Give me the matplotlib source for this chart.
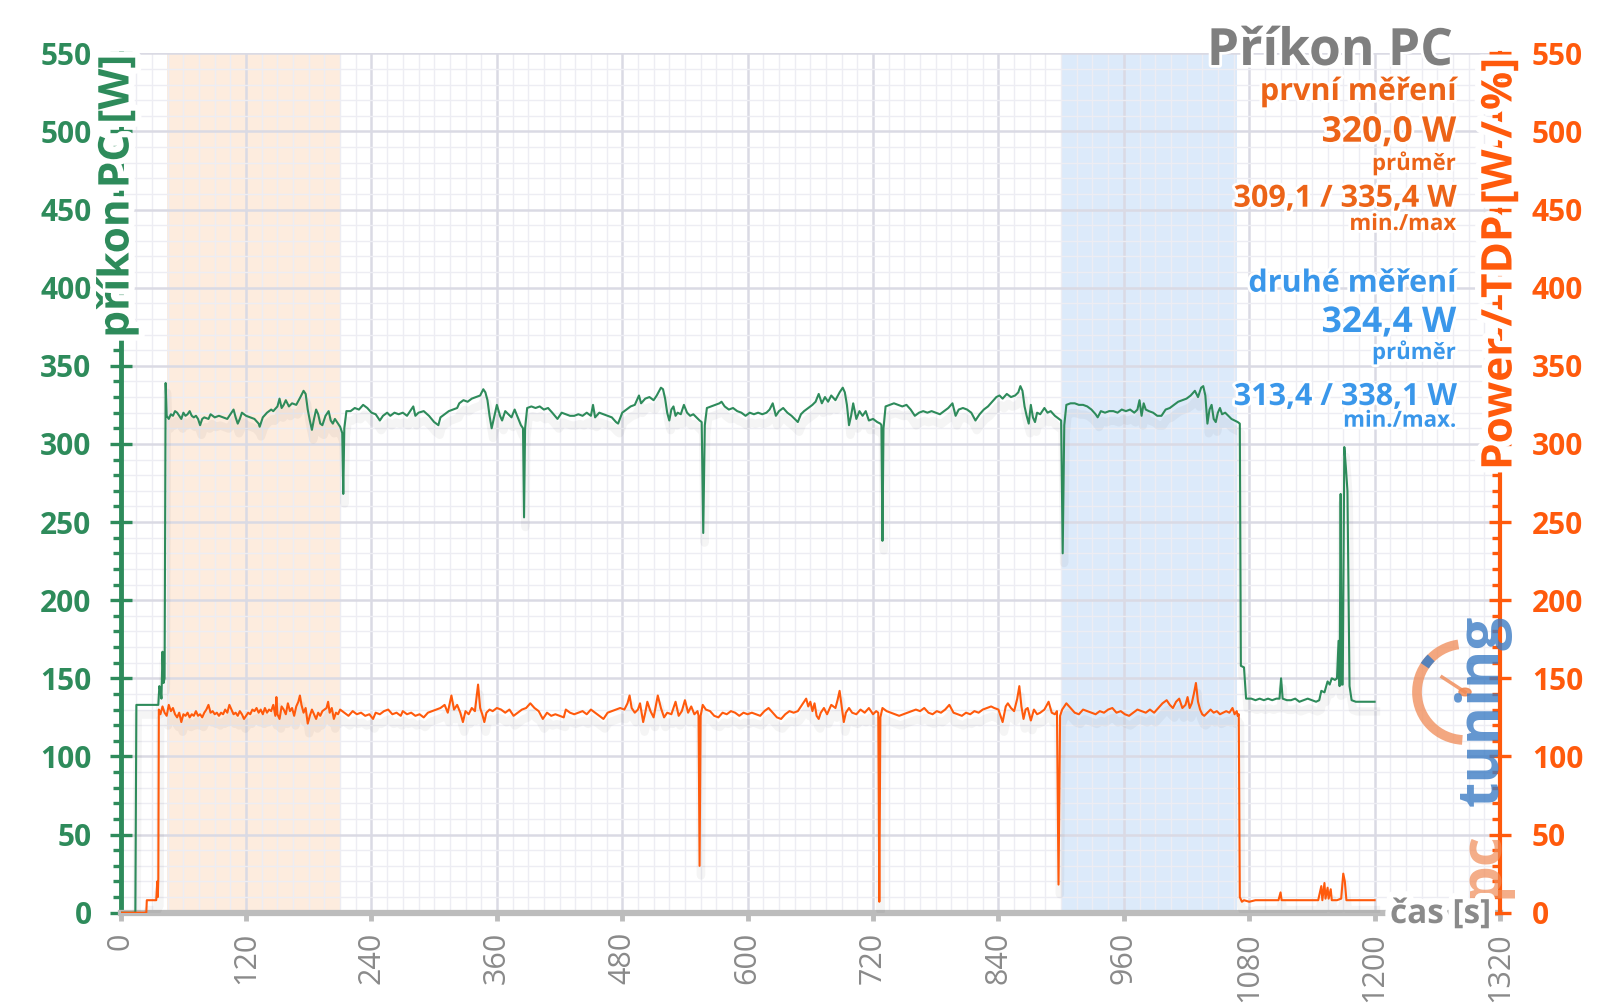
import matplotlib
matplotlib.use('Agg')
import matplotlib.pyplot as plt
import matplotlib.patheffects as pe
from matplotlib.patches import Arc, Circle
from matplotlib.lines import Line2D
from matplotlib.ticker import MultipleLocator

plt.rcParams['font.family'] = ['Open Sans', 'DejaVu Sans']

# ---------------- data ----------------
x_ticks = [0, 120, 240, 360, 480, 600, 720, 840, 960, 1080, 1200, 1320]
y_ticks = [0, 50, 100, 150, 200, 250, 300, 350, 400, 450, 500, 550]

span_first = [44, 210]
span_second = [900, 1068]

green_t = [0, 14, 15, 36, 37, 38.5, 39, 40, 41, 42, 43, 44, 46, 48, 50, 52, 54, 56, 58, 60, 62, 64, 66, 68, 70,
           72, 74, 76, 78, 80, 84, 86, 90, 94, 98, 102, 104, 108, 110, 112, 114, 116, 120, 124, 128, 132, 133,
           136, 140, 144, 146, 150, 152, 154, 156, 158, 161, 164, 168, 172, 175, 177, 179, 181, 183, 185, 187,
           189, 191, 193, 196, 199, 201, 203, 205, 208, 210, 212, 213, 214, 216, 220, 224, 228, 232, 236, 240,
           244, 248, 251, 255, 258, 262, 266, 270, 274, 278, 280, 282, 285, 290, 295, 300, 304, 306, 310, 314,
           318, 322, 324, 328, 332, 336, 340, 344, 347, 349, 351, 353, 355, 358, 360, 363, 365, 368, 371, 374,
           377, 380, 383, 385, 386, 387, 389, 393, 397, 401, 405, 409, 413, 418, 422, 426, 430, 434, 438, 442,
           446, 450, 452, 454, 458, 462, 466, 470, 474, 476, 480, 484, 488, 492, 496, 498, 502, 506, 510, 513,
           517, 519, 521, 523, 525, 527, 529, 531, 533, 536, 539, 542, 545, 548, 551, 554, 556, 557.5, 559, 561,
           565, 569, 573, 575, 578, 582, 586, 590, 594, 598, 602, 606, 610, 614, 618, 621, 624, 627, 630, 634,
           638, 642, 645, 648, 651, 654, 658, 662, 665, 668, 671, 674, 677, 680, 684, 688, 691, 693, 695, 697,
           699, 701, 704, 707, 710, 713, 716, 720, 724, 727, 728, 729, 730, 732, 736, 740, 744, 748, 752, 756,
           760, 764, 768, 772, 776, 780, 784, 788, 792, 796, 799, 802, 806, 810, 814, 818, 822, 826, 830, 834,
           838, 841, 844, 848, 852, 856, 859, 861, 863, 865, 867, 869, 871, 873, 875, 877, 880, 884, 887, 890,
           894, 898, 900, 901.5, 903, 905, 909, 913, 917, 921, 925, 929, 933, 935, 938, 942, 946, 950, 954, 958,
           962, 966, 970, 973, 975, 977, 979, 981, 984, 988, 992, 996, 1000, 1004, 1008, 1012, 1016, 1020, 1024,
           1028, 1031, 1034, 1036, 1038, 1040, 1042, 1044, 1046, 1048, 1050, 1052, 1054, 1057, 1060, 1063, 1066,
           1069, 1071, 1072, 1075, 1077, 1082, 1086, 1090, 1094, 1098, 1102, 1106, 1109, 1110.5, 1112, 1116,
           1120, 1124, 1128, 1132, 1136, 1140, 1144, 1147, 1149, 1152, 1155, 1157, 1159, 1162, 1164, 1165.5,
           1166.5, 1167.5, 1168.5, 1169.5, 1171, 1172.5, 1174, 1176, 1178, 1182, 1188, 1194, 1200]
green_w = [0, 0, 133, 133, 145, 140, 137, 167, 147, 150, 339, 318, 316, 319, 318, 321, 320, 318, 316, 320, 318,
           319, 321, 318, 317, 318, 316, 312, 316, 317, 316, 319, 317, 318, 317, 316, 318, 322, 317, 313, 316,
           320, 318, 317, 316, 313, 311, 317, 320, 322, 321, 324, 329, 323, 325, 328, 324, 326, 325, 330, 334,
           332, 322, 315, 309, 316, 322, 319, 313, 312, 318, 321, 315, 313, 316, 313, 311, 307, 268, 310, 321,
           321, 323, 322, 325, 323, 320, 319, 315, 318, 320, 318, 320, 319, 320, 318, 322, 324, 318, 320, 321,
           318, 314, 312, 317, 319, 321, 322, 323, 326, 328, 327, 329, 330, 331, 335, 333, 328, 318, 310, 319,
           325, 318, 315, 321, 319, 317, 322, 317, 312, 310, 253, 310, 323, 324, 323, 324, 322, 323, 320, 316,
           320, 319, 318, 318, 319, 318, 320, 318, 325, 317, 320, 319, 318, 317, 314, 313, 320, 322, 324, 325,
           331, 326, 329, 330, 328, 331, 336, 335, 329, 320, 315, 322, 324, 318, 320, 319, 325, 320, 318, 319,
           317, 315, 314, 243, 312, 323, 324, 325, 326, 327, 324, 322, 323, 321, 320, 318, 320, 319, 320, 319,
           320, 322, 326, 318, 321, 323, 320, 318, 316, 314, 319, 321, 323, 325, 327, 332, 326, 330, 327, 331,
           328, 333, 336, 333, 325, 312, 318, 326, 316, 321, 318, 321, 315, 316, 314, 313, 312, 238, 310, 324,
           325, 326, 325, 324, 325, 322, 318, 320, 321, 320, 321, 320, 319, 321, 323, 326, 318, 322, 323, 322,
           320, 315, 319, 322, 324, 327, 330, 331, 329, 332, 330, 331, 333, 337, 334, 324, 318, 313, 325, 317,
           314, 320, 319, 323, 320, 321, 318, 316, 315, 230, 312, 325, 326, 326, 325, 325, 324, 322, 319, 317,
           321, 320, 321, 321, 320, 322, 321, 322, 320, 322, 328, 318, 326, 322, 321, 320, 318, 318, 322, 323,
           325, 327, 328, 329, 331, 334, 330, 336, 337, 331, 313, 322, 325, 316, 314, 320, 323, 319, 320, 318,
           316, 315, 314, 313, 158, 157, 137, 137, 136, 137, 136, 137, 136, 137, 137, 150, 137, 136, 136, 137,
           135, 136, 137, 136, 135, 136, 142, 141, 148, 146, 150, 149, 150, 174, 145, 268, 146, 146, 298, 285,
           270, 145, 136, 135, 135, 135, 135]

power_t = [0, 24.5, 25, 34, 35, 35.5, 36, 36.5, 38, 40, 42, 44, 46, 48, 50, 52, 54, 56, 58, 60, 62, 64, 66, 68,
           70, 72, 74, 76, 78, 80, 82, 84, 86, 88, 90, 92, 94, 96, 98, 100, 102, 104, 106, 108, 110, 112, 114,
           116, 118, 120, 122, 124, 126, 128, 130, 132, 134, 136, 138, 140, 142, 144, 146, 148, 149, 150, 152,
           154, 156, 158, 160, 162, 164, 166, 168, 170, 171.5, 173, 175, 177, 179, 181, 183, 185, 187, 189, 191,
           193, 195, 197, 198.5, 200, 202, 204, 206, 208, 210, 214, 218, 222, 226, 230, 234, 238, 241.5, 244,
           248, 252, 256, 260, 264, 268, 270, 274, 278, 282, 286, 290, 294, 298, 302, 306, 310, 313, 316.5, 319,
           322, 325, 327.5, 330, 333, 336, 339, 342, 344, 346, 348, 350, 353, 356, 360, 364, 368, 372, 376, 380,
           384, 388, 392, 396, 400, 404, 408, 412, 416, 420, 424, 426, 430, 434, 438, 442, 446, 450, 454, 458,
           462, 466, 470, 474, 478, 482, 485, 487, 489, 492, 495, 497, 500, 502, 504, 507, 510, 514, 517, 520,
           523, 527, 531, 534, 537, 540, 543, 546, 549, 552, 553, 554, 555, 557, 560, 564, 568, 572, 576, 580,
           584, 588, 592, 596, 600, 604, 608, 612, 616, 620, 624, 628, 632, 636, 640, 644, 648, 652, 656, 658,
           660, 662, 664, 666, 668, 670, 673, 676, 680, 684, 686, 688, 690, 692, 694, 697, 700, 704, 708, 712,
           716, 720, 723, 725, 726, 727, 729, 733, 737, 741, 745, 749, 753, 757, 761, 765, 769, 773, 777, 781,
           785, 789, 793, 797, 801, 805, 809, 813, 817, 821, 825, 829, 833, 836, 840, 844, 847, 849, 852, 855,
           858, 860, 862, 864, 866, 868, 871, 874, 877, 880, 884, 888, 891, 894, 896, 897.5, 899, 901, 905, 909,
           913, 917, 921, 925, 929, 933, 937, 941, 945, 949, 953, 957, 961, 965, 969, 973, 977, 981, 985, 989,
           993, 997, 1001, 1004, 1007, 1010, 1013, 1016, 1019, 1021, 1023, 1025, 1027, 1029, 1031, 1033, 1035,
           1037, 1040, 1043, 1046, 1049, 1052, 1055, 1058, 1061, 1064, 1066, 1068, 1069, 1070, 1071, 1073, 1075,
           1080, 1086, 1092, 1098, 1104, 1108, 1110, 1111, 1120, 1130, 1140, 1146, 1149, 1150, 1152, 1153, 1155,
           1156, 1158, 1159, 1164, 1168, 1170, 1171.5, 1173, 1180, 1190, 1200]
power_w = [0, 0, 8, 8, 20, 10, 22, 130, 127, 132, 128, 126, 133, 129, 131, 127, 125, 128, 122, 127, 126, 128,
           125, 127, 126, 129, 126, 127, 125, 128, 130, 133, 128, 129, 127, 128, 126, 128, 127, 130, 128, 133,
           130, 127, 128, 126, 129, 127, 124, 126, 128, 127, 130, 129, 131, 128, 130, 127, 131, 128, 130, 129,
           133, 126, 138, 127, 124, 132, 130, 127, 134, 129, 131, 126, 132, 135, 139, 133, 128, 131, 121, 126,
           130, 127, 124, 128, 126, 129, 130, 131, 135, 128, 131, 124, 128, 127, 130, 128, 126, 129, 127, 128,
           126, 127, 124, 128, 127, 129, 130, 127, 128, 126, 129, 127, 128, 126, 127, 125, 128, 129, 130, 131,
           133, 128, 139, 130, 133, 128, 122, 129, 127, 131, 129, 146, 131, 127, 122, 128, 130, 129, 131, 130,
           128, 130, 126, 128, 130, 131, 134, 131, 129, 124, 128, 126, 127, 126, 125, 130, 128, 127, 128, 129,
           127, 130, 128, 126, 124, 128, 129, 130, 131, 130, 134, 139, 131, 128, 130, 134, 122, 128, 135, 129,
           125, 139, 131, 125, 128, 127, 135, 126, 129, 136, 128, 132, 127, 129, 126, 30, 126, 133, 130, 129,
           126, 125, 128, 127, 129, 128, 126, 128, 127, 128, 127, 126, 129, 131, 128, 125, 124, 127, 129, 128,
           129, 133, 137, 132, 135, 129, 134, 126, 124, 128, 131, 127, 133, 131, 136, 142, 132, 122, 128, 131,
           128, 127, 130, 128, 131, 127, 129, 128, 7, 125, 131, 129, 128, 127, 126, 127, 128, 129, 130, 129,
           131, 128, 127, 129, 128, 130, 133, 128, 127, 126, 128, 127, 129, 128, 130, 131, 132, 131, 130, 122,
           132, 134, 131, 129, 137, 145, 132, 124, 130, 131, 123, 130, 127, 128, 130, 135, 128, 127, 129, 18,
           126, 130, 134, 131, 128, 127, 130, 129, 128, 127, 129, 128, 130, 131, 128, 129, 127, 126, 128, 130,
           129, 128, 130, 128, 131, 134, 136, 133, 131, 135, 137, 131, 133, 138, 131, 134, 140, 147, 135, 130,
           127, 126, 128, 130, 128, 129, 127, 128, 129, 128, 131, 127, 129, 126, 127, 10, 7, 8, 7, 8, 8, 8, 8,
           8, 13, 8, 8, 8, 8, 8, 17, 8, 19, 9, 16, 9, 15, 8, 8, 9, 25, 20, 8, 8, 8, 8]

title = "Příkon PC"
first_lines = ["první měření", "320,0 W", "průměr", "309,1 / 335,4 W", "min./max"]
second_lines = ["druhé měření", "324,4 W", "průměr", "313,4 / 338,1 W", "min./max."]

# ---------------- styling ----------------
GREEN = '#2e8b5b'
ORANGE = '#ff5a0c'
ORANGE_TXT = '#ec6418'
BLUE = '#3a97ea'
GRAY = '#8a8a8a'
AXGRAY = '#bcbcbc'

W, H = 1600, 1008
fig = plt.figure(figsize=(16, 10.08), dpi=100)
fig.patch.set_facecolor('white')
L, R, T, B = 120.7, 1500.0, 53.3, 912.7
ax = fig.add_axes([L / W, 1 - B / H, (R - L) / W, (B - T) / H])
ax.set_xlim(0, 1320)
ax.set_ylim(0, 550)
ax2 = ax.twinx()
ax2.set_ylim(0, 550)


def fx(x):
    return x / W


def fy(y):
    return 1 - y / H


# grid
ax.set_axisbelow(True)
ax.xaxis.set_major_locator(MultipleLocator(120))
ax.xaxis.set_minor_locator(MultipleLocator(15))
ax.yaxis.set_major_locator(MultipleLocator(50))
ax.yaxis.set_minor_locator(MultipleLocator(10))
ax.grid(which='major', color='#dadae4', linewidth=1.8)
ax.grid(which='minor', color='#ededf3', linewidth=1.0)

# shaded spans
ax.axvspan(span_first[0], span_first[1], color='#fdeadb', alpha=0.9, zorder=0.2, lw=0)
ax.axvspan(span_second[0], span_second[1], color='#d9e8fa', alpha=0.9, zorder=0.2, lw=0)

shadow = [pe.SimpleLineShadow(offset=(1, -7), shadow_color='black', alpha=0.04, linewidth=6), pe.Normal()]
ax.plot(green_t, green_w, color=GREEN, lw=1.5, zorder=3, path_effects=shadow)
ax2.plot(power_t, power_w, color=ORANGE, lw=1.5, zorder=3, path_effects=shadow)

# spines
for s in ['top', 'right']:
    ax.spines[s].set_visible(False)
for s in ['top', 'left', 'bottom']:
    ax2.spines[s].set_visible(False)
ax.spines['left'].set_color(GREEN)
ax.spines['left'].set_linewidth(3.5)
ax.spines['bottom'].set_color(AXGRAY)
ax.spines['bottom'].set_linewidth(4.5)
ax2.spines['right'].set_color(ORANGE)
ax2.spines['right'].set_linewidth(3.0)

# ticks
ax.set_xticks(x_ticks)
ax.set_xticklabels([str(v) for v in x_ticks])
ax.set_yticks(y_ticks)
ax.set_yticklabels([str(v) for v in y_ticks])
ax2.set_yticks(y_ticks)
ax2.set_yticklabels([str(v) for v in y_ticks])
ax2.yaxis.set_minor_locator(MultipleLocator(10))

ax.tick_params(axis='y', which='major', direction='inout', length=16, width=2.4, color=GREEN,
               labelcolor=GREEN, labelsize=21.5, pad=13)
ax.tick_params(axis='y', which='minor', direction='out', length=6, width=2.4, color=GREEN)
ax.tick_params(axis='x', which='major', direction='out', length=6, width=3.5, color=AXGRAY,
               labelcolor=GRAY, labelsize=22, pad=8, labelrotation=90)
ax.tick_params(axis='x', which='minor', length=0)
ax2.tick_params(axis='y', which='major', direction='inout', length=16, width=2.4, color=ORANGE,
                labelcolor=ORANGE, labelsize=21.5, pad=15)
ax2.tick_params(axis='y', which='minor', direction='in', length=6, width=2.4, color=ORANGE)
for lab in ax.get_yticklabels() + ax2.get_yticklabels():
    lab.set_fontweight('bold')

halo = [pe.withStroke(linewidth=9, foreground='white')]
halo_s = [pe.withStroke(linewidth=4, foreground='white')]

# axis titles
fig.text(fx(118), fy(55), "příkon PC [W]", rotation=90, ha='center', va='top', color=GREEN,
         fontsize=30.5, fontweight='bold', path_effects=halo, zorder=10)
fig.text(fx(1501), fy(58), "Power / TDP [W / %]", rotation=90, ha='center', va='top', color=ORANGE,
         fontsize=30.5, fontweight='bold', path_effects=halo, zorder=10)
fig.text(fx(1390), fy(923), "čas [s]", ha='left', va='baseline', color=GRAY,
         fontsize=24, fontweight='bold', path_effects=halo, zorder=10)

# title and stats block
RX = 1456
fig.text(fx(1453), fy(65), title, ha='right', va='baseline', color='#7f7f7f', fontsize=37,
         fontweight='bold', path_effects=halo_s, zorder=10)
first_y = [100, 141.7, 170, 206.7, 230]
second_y = [291.7, 332, 359, 405, 426.7]
sizes = [22, 25.5, 16, 22, 16]
for txt, yy, sz in zip(first_lines, first_y, sizes):
    fig.text(fx(RX), fy(yy), txt, ha='right', va='baseline', color=ORANGE_TXT, fontsize=sz,
             fontweight='bold', path_effects=halo_s, zorder=10)
for txt, yy, sz in zip(second_lines, second_y, sizes):
    fig.text(fx(RX), fy(yy), txt, ha='right', va='baseline', color=BLUE, fontsize=sz,
             fontweight='bold', path_effects=halo_s, zorder=10)

# watermark logo (pctuning)
cx, cy, rr = 1465, 692, 48
fig.patches.append(Arc((fx(cx), fy(cy)), 2 * rr / W, 2 * rr / H, theta1=95, theta2=268,
                       transform=fig.transFigure, color='#f08a55', lw=7, alpha=0.75, zorder=8))
fig.patches.append(Arc((fx(cx), fy(cy)), 2 * rr / W, 2 * rr / H, theta1=122, theta2=134,
                       transform=fig.transFigure, color='#3c7cc4', lw=7, alpha=0.85, zorder=8))
fig.lines.append(Line2D([fx(cx), fx(1442)], [fy(cy), fy(677)], transform=fig.transFigure,
                        color='#f08a55', lw=2.5, alpha=0.8, zorder=8))
fig.patches.append(Circle((fx(cx), fy(cy)), 0.0038, transform=fig.transFigure, color='#f08a55',
                          alpha=0.85, zorder=8))
fig.text(fx(1498), fy(898), "pc", rotation=90, rotation_mode='anchor', ha='left', va='baseline',
         color='#f08a55', alpha=0.7, fontsize=42, fontweight='bold', zorder=8)
fig.text(fx(1498), fy(806), "tuning", rotation=90, rotation_mode='anchor', ha='left', va='baseline',
         color='#3c7cc4', alpha=0.8, fontsize=42, fontweight='bold', zorder=8)

fig.savefig('out.png', dpi=100, facecolor='white')
